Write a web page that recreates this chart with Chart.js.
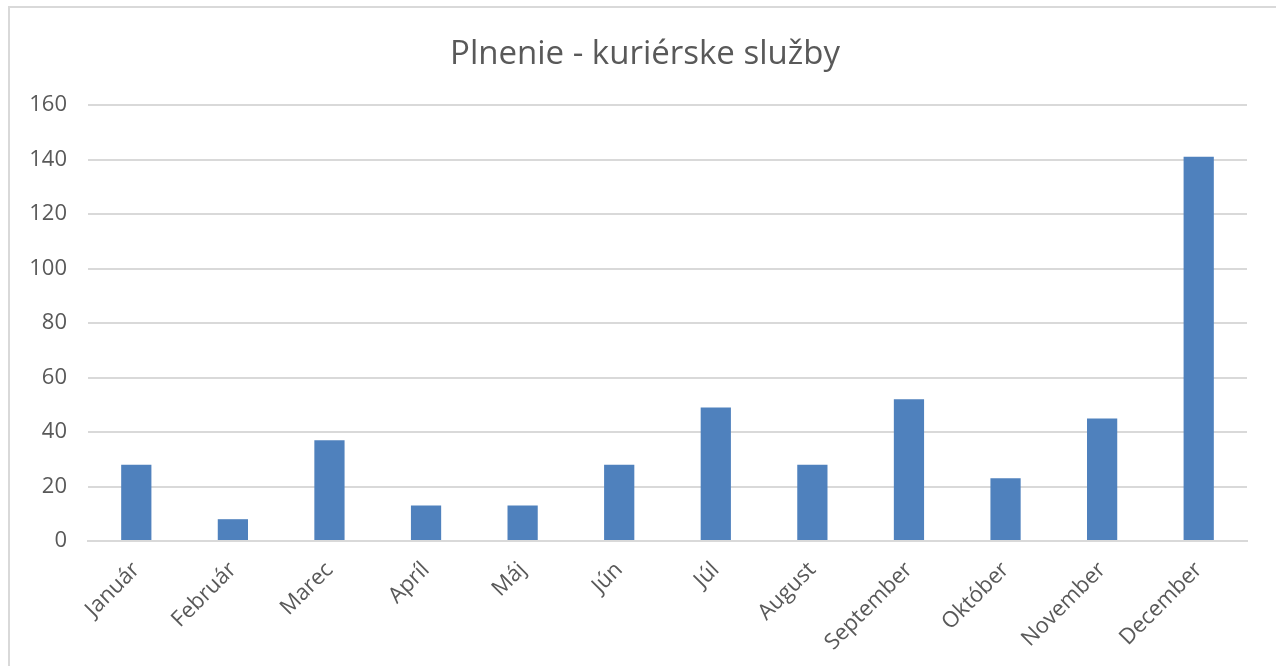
<!DOCTYPE html>
<html>
<head>
<meta charset="utf-8">
<script src="https://cdn.jsdelivr.net/npm/chart.js@4"></script>
<style>
  html, body { margin: 0; padding: 0; background: #fff; overflow: hidden; }
  #frame { position: absolute; left: 8px; top: 6px; width: 1290px; height: 700px; border: 2px solid #d9d9d9; box-sizing: border-box; }
  #wrap { position: absolute; left: 0; top: 0; width: 1276px; height: 666px; }
</style>
</head>
<body>
<div id="frame"></div>
<div id="wrap"><canvas id="chart"></canvas></div>
<script>
// data
const months = ["Január", "Február", "Marec", "Apríl", "Máj", "Jún", "Júl", "August", "September", "Október", "November", "December"];
const values = [28, 8, 37, 13, 13, 28, 49, 28, 52, 23, 45, 141];
const yTicks = [0, 20, 40, 60, 80, 100, 120, 140, 160];

const textColor = "#595959";
const fontFamily = "'Open Sans', 'Noto Sans', sans-serif";

// title is centred on the whole frame, not only on the plot
const centerTitle = {
  id: "centerTitle",
  afterLayout(chart) {
    chart.titleBlock.left = 14;
    chart.titleBlock.right = chart.width;
  },
};

const ctx = document.getElementById("chart").getContext("2d");

new Chart(ctx, {
  type: "bar",
  data: {
    labels: months,
    datasets: [
      {
        data: values,
        backgroundColor: "#4f81bd",
        categoryPercentage: 1,
        barPercentage: 0.313,
      },
    ],
  },
  plugins: [centerTitle],
  options: {
    responsive: true,
    maintainAspectRatio: false,
    animation: false,
    layout: { padding: { left: 0, right: 29, top: 0, bottom: 0 } },
    plugins: {
      legend: { display: false },
      tooltip: { enabled: false },
      title: {
        display: true,
        text: "Plnenie - kuriérske služby",
        color: textColor,
        font: { family: fontFamily, size: 33, weight: "normal", lineHeight: 1.2 },
        padding: { top: 35, bottom: 30.4 },
      },
    },
    scales: {
      x: {
        grid: { display: false },
        border: { color: "#d9d9d9", width: 2 },
        ticks: {
          color: textColor,
          font: { family: fontFamily, size: 22 },
          minRotation: 45,
          maxRotation: 45,
          padding: 8,
        },
        afterFit: (scale) => { scale.height = 125; },
      },
      y: {
        min: 0,
        max: 160,
        afterBuildTicks: (scale) => { scale.ticks = yTicks.map(v => ({ value: v })); },
        grid: { color: "#d9d9d9", lineWidth: 2, drawTicks: false },
        border: { display: false },
        ticks: {
          color: textColor,
          font: { family: fontFamily, size: 22 },
          padding: 21,
        },
        afterFit: (scale) => { scale.width = 88; },
      },
    },
  },
});
</script>
</body>
</html>
